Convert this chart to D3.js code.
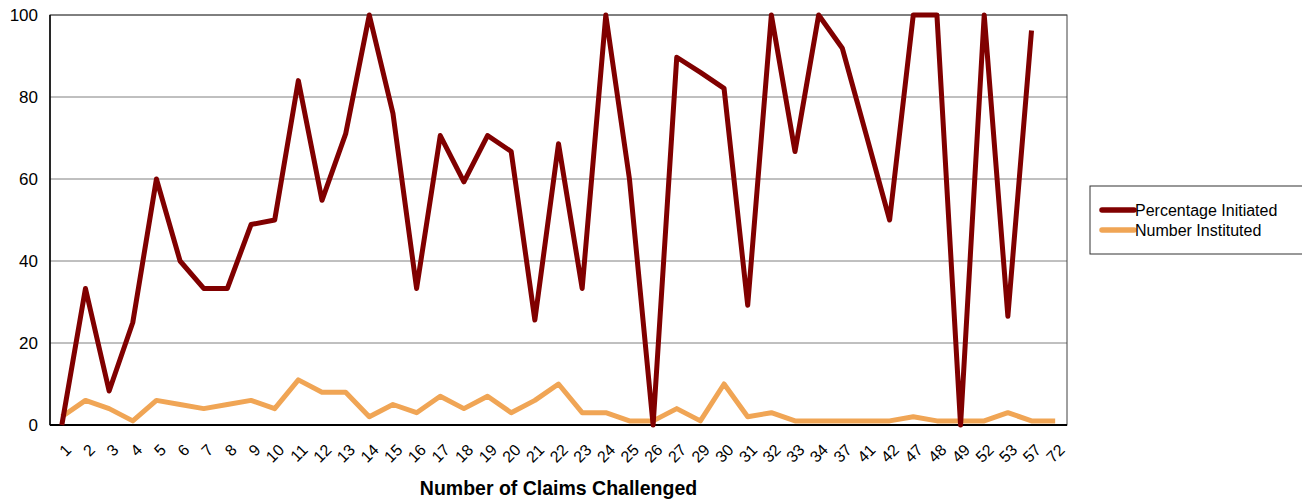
<!DOCTYPE html>
<html lang="en">
<head>
<meta charset="utf-8">
<title>Claims Challenged</title>
<script src="https://cdn.jsdelivr.net/npm/d3@7"></script>
<style>
  body { margin: 0; background: #fff; font-family: "Liberation Sans", Arial, sans-serif; }
  .grid line { stroke: #808080; stroke-width: 1px; }
  .line { fill: none; stroke-width: 5px; stroke-linejoin: round; }
</style>
</head>
<body>
<div id="chart"></div>
<script>
var categories = ["1","2","3","4","5","6","7","8","9","10","11","12","13","14","15","16","17","18","19","20",
  "21","22","23","24","25","26","27","29","30","31","32","33","34","37","41","42","47","48","49","52","53","57","72"];

var percentageInitiated = [0,33.3,8.3,25,60,40,33.3,33.3,48.9,50,84,54.8,71,100,76,33.3,70.6,59.3,70.6,66.7,
  25.6,68.6,33.3,100,60,0,89.7,86,82.1,29.2,100,66.7,100,91.9,71,50,100,100,0,100,26.5,96.2,null];

var numberInstituted = [2,6,4,1,6,5,4,5,6,4,11,8,8,2,5,3,7,4,7,3,
  6,10,3,3,1,1,4,1,10,2,3,1,1,1,1,1,2,1,1,1,3,1,1];

var yTicks = [0, 20, 40, 60, 80, 100];

var series = [
  { name: "Percentage Initiated", values: percentageInitiated, color: "#800000" },
  { name: "Number Instituted", values: numberInstituted, color: "#F0A555" }
];

var width = 1302, height = 501;
var margin = { top: 15, left: 50, right: 235, bottom: 76 };
var innerW = width - margin.left - margin.right;
var innerH = height - margin.top - margin.bottom;

var svg = d3.select("#chart").append("svg")
    .attr("width", width)
    .attr("height", height);

var g = svg.append("g").attr("transform", "translate(" + margin.left + "," + margin.top + ")");

var x = d3.scalePoint().domain(categories).range([0, innerW]).padding(0.5);
var y = d3.scaleLinear().domain([0, 100]).range([innerH, 0]);

// grid lines
g.append("g").attr("class", "grid")
  .selectAll("line")
  .data(yTicks.slice(1))
  .enter().append("line")
    .attr("x1", 0).attr("x2", innerW)
    .attr("y1", function(d) { return y(d); })
    .attr("y2", function(d) { return y(d); });

// plot frame
g.append("rect")
  .attr("width", innerW).attr("height", innerH)
  .attr("fill", "none").attr("stroke", "#404040").attr("stroke-width", 1);
g.append("line")
  .attr("x1", 0).attr("x2", innerW).attr("y1", innerH).attr("y2", innerH)
  .attr("stroke", "#000").attr("stroke-width", 2);
g.append("line")
  .attr("x1", 0).attr("x2", 0).attr("y1", 0).attr("y2", innerH)
  .attr("stroke", "#000").attr("stroke-width", 1.5);

// y axis
var yAxis = g.append("g")
  .call(d3.axisLeft(y).tickValues(yTicks).tickSize(0).tickPadding(12));
yAxis.select(".domain").remove();
yAxis.selectAll("text").attr("font-size", 17).attr("fill", "#000")
  .attr("font-family", "Liberation Sans, Arial, sans-serif");

// x axis
var xAxis = g.append("g")
  .attr("transform", "translate(0," + innerH + ")")
  .call(d3.axisBottom(x).tickSize(0).tickPadding(0));
xAxis.select(".domain").remove();
xAxis.selectAll("text")
  .attr("font-size", 16).attr("fill", "#000")
  .attr("font-family", "Liberation Sans, Arial, sans-serif")
  .attr("text-anchor", "end")
  .attr("y", 0)
  .attr("dy", 0)
  .attr("transform", "translate(10,26) rotate(-45)");

// lines
var line = d3.line()
  .defined(function(d) { return d != null; })
  .x(function(d, i) { return x(categories[i]); })
  .y(function(d) { return y(d); });

g.selectAll(".line")
  .data(series.slice().reverse())
  .enter().append("path")
    .attr("class", "line")
    .attr("stroke", function(d) { return d.color; })
    .attr("d", function(d) { return line(d.values); });

// axis title
svg.append("text")
  .attr("x", margin.left + innerW / 2)
  .attr("y", 495)
  .attr("text-anchor", "middle")
  .attr("font-size", 19.5).attr("font-weight", "bold")
  .text("Number of Claims Challenged");

// legend
var legend = svg.append("g").attr("transform", "translate(1090,186)");
legend.append("rect")
  .attr("width", 220).attr("height", 68)
  .attr("fill", "#fff").attr("stroke", "#333").attr("stroke-width", 1);
var items = legend.selectAll(".item")
  .data(series)
  .enter().append("g")
    .attr("transform", function(d, i) { return "translate(0," + (24 + i * 20) + ")"; });
items.append("line")
  .attr("x1", 12).attr("x2", 44)
  .attr("stroke", function(d) { return d.color; })
  .attr("stroke-width", 5.5).attr("stroke-linecap", "round");
items.append("text")
  .attr("x", 45).attr("dy", "0.35em")
  .attr("font-size", 16)
  .text(function(d) { return d.name; });
</script>
</body>
</html>
